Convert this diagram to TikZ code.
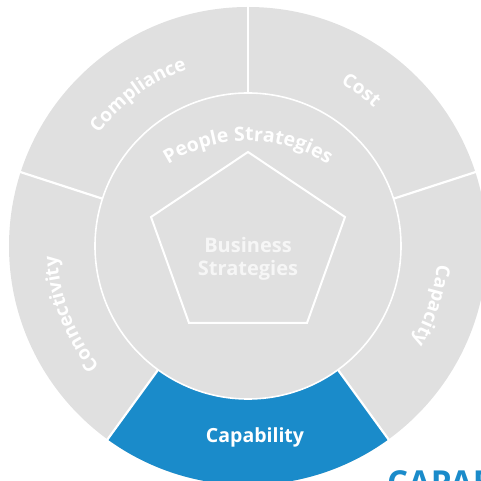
\documentclass[tikz,border=0pt]{standalone}
\usepackage{fontspec}
\setmainfont{Open Sans}
\usetikzlibrary{decorations.text}
\definecolor{segGray}{HTML}{E0E0E0}
\definecolor{capBlue}{HTML}{1A8BCA}
\definecolor{softWhite}{HTML}{F6F6F6}
\newcommand{\ringfont}{\bfseries\fontsize{19}{19}\selectfont\color{white}}
\newcommand{\peoplefont}{\bfseries\fontsize{19.5}{19.5}\selectfont\color{white}}
\begin{document}
\begin{tikzpicture}[x=1pt,y=1pt,
  divider/.style={draw=white, line width=2.2pt},
  ringoutline/.style={draw=white, line width=1.6pt},
  pentaline/.style={draw=white, line width=2pt, line join=miter},
  arclabel/.style={decorate, decoration={text along path, text={|\ringfont|#1}, text align=center}},
  peoplelabel/.style={decorate, decoration={text along path, text={|\peoplefont|#1}, text align=center}}
  ]
\useasboundingbox (0,0) rectangle (481,481);
\clip (0,0) rectangle (481,481);
\coordinate (C) at (248,235);
\coordinate (PC) at (248,191);
% outer ring
\fill[segGray] (C) circle[radius=239];
\fill[capBlue] ([shift={(234:153)}]C) arc[start angle=234, end angle=306, radius=153]
   -- ([shift={(306:239)}]C) arc[start angle=306, end angle=234, radius=239] -- cycle;
\foreach \a in {90,18,-54,-126,162}
  \draw[divider] ([shift={(\a:150)}]C) -- ([shift={(\a:241)}]C);
% inner disc
\fill[segGray] (C) circle[radius=153];
\draw[ringoutline] (C) circle[radius=153];
% pentagon
\coordinate (p1) at (248,329);
\coordinate (p2) at (345,264);
\coordinate (p3) at (307,158);
\coordinate (p4) at (189,158);
\coordinate (p5) at (151,264);
\draw[pentaline] (p1) -- (p2) -- (p3) -- (p4) -- (p5) -- cycle;
% ring labels
\path[arclabel={Compliance}] ([shift={(162:187)}]C) arc[start angle=162, end angle=90, radius=187];
\path[arclabel={Cost}] ([shift={(90:187)}]C) arc[start angle=90, end angle=18, radius=187];
\path[arclabel={Capacity}] ([shift={(18:190)}]C) arc[start angle=18, end angle=-54, radius=190];
\path[arclabel={Connectivity}] ([shift={(237:191)}]C) arc[start angle=237, end angle=165, radius=191];
\path[peoplelabel={People Strategies}] ([shift={(130:149)}]PC) arc[start angle=130, end angle=50, radius=149];
% centre and highlighted labels
\node[align=center, text=softWhite, font=\bfseries\fontsize{20}{23.5}\selectfont] (business) at (248,222) {Business\\Strategies};
\node[anchor=base, text=white, font=\bfseries\fontsize{19.5}{19.5}\selectfont] (capability) at (255,38) {Capability};
\node[anchor=base west, inner sep=0pt, text=capBlue, font=\bfseries\fontsize{33}{33}\selectfont] (heading) at (387,-13) {CAPAB};
\end{tikzpicture}
\end{document}
